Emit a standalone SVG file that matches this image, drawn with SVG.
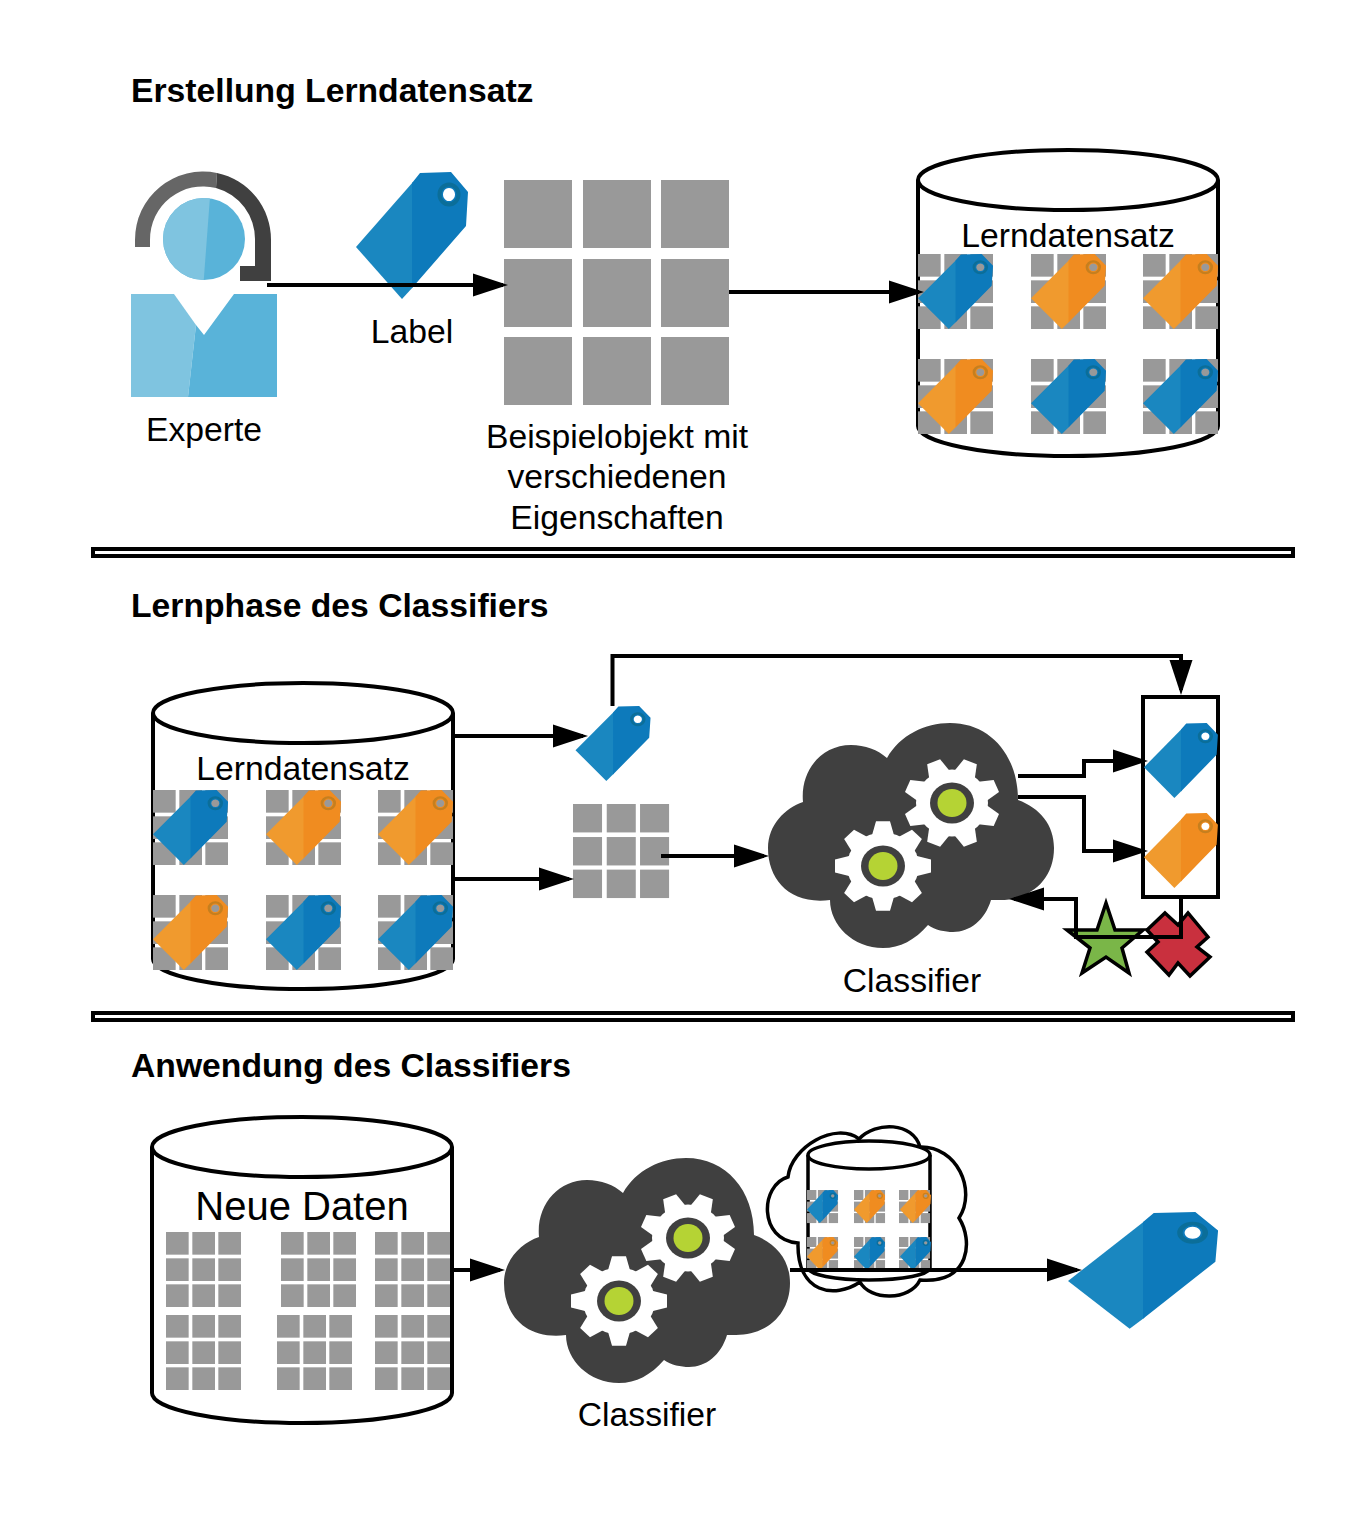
<svg xmlns="http://www.w3.org/2000/svg" width="1369" height="1515" viewBox="0 0 1369 1515">
<style>
text{font-family:"Liberation Sans",Arial,sans-serif;font-size:33.700px;fill:#000;text-anchor:middle}
text.title{font-weight:bold;text-anchor:start}
.conn{fill:none;stroke:#000;stroke-width:4;marker-end:url(#head)}
.cyl{fill:#fff;stroke:#000;stroke-width:4}
.sep{fill:#fff;stroke:#000;stroke-width:4}
.sq{fill:#999}
</style>
<defs>
<marker id="head" markerUnits="userSpaceOnUse" markerWidth="36" markerHeight="24" refX="30" refY="12" orient="auto"><path d="M0,0.500 L35,12 L0,23.500Z" fill="#000"/></marker>
<clipPath id="head-left"><path d="M120,150 H213.500 L203,290 H120Z"/></clipPath>
<g id="grid">
<rect class="sq" x="0" y="0" width="68" height="68"/><rect class="sq" x="79" y="0" width="68" height="68"/><rect class="sq" x="157" y="0" width="68" height="68"/>
<rect class="sq" x="0" y="79" width="68" height="68"/><rect class="sq" x="79" y="79" width="68" height="68"/><rect class="sq" x="157" y="79" width="68" height="68"/>
<rect class="sq" x="0" y="157" width="68" height="68"/><rect class="sq" x="79" y="157" width="68" height="68"/><rect class="sq" x="157" y="157" width="68" height="68"/>
</g>
<g id="tag-blue">
<path fill="#1A87C0" d="M0,75 L57,10 V115 L46,127Z"/>
<path fill="#0D7ABB" fill-rule="evenodd" d="M56,11 L64,1 L95,0 L112,20 L110,54 L56,116Z M93,16 a6,6.5 0 1 0 .01,0Z"/>
<ellipse cx="93" cy="22.500" rx="9.500" ry="10" fill="none" stroke="#0B6E99" stroke-width="4"/>
</g>
<g id="tag-orange">
<path fill="#F09A2E" d="M0,75 L57,10 V115 L46,127Z"/>
<path fill="#F08C20" fill-rule="evenodd" d="M56,11 L64,1 L95,0 L112,20 L110,54 L56,116Z M93,16 a6,6.5 0 1 0 .01,0Z"/>
<ellipse cx="93" cy="22.500" rx="9.500" ry="10" fill="none" stroke="#C67F1E" stroke-width="4"/>
</g>
<g id="cyl-shape">
<path class="cyl" d="M0,30 V276 A150,30 0 0 0 300,276 V30"/>
<ellipse class="cyl" cx="150" cy="30" rx="150" ry="30"/>
</g>
<path id="tooth" fill="#fff" d="M-11,-33 L-7,-48 L7,-48 L11,-33Z"/>
<g id="gear">
<circle r="36" fill="#fff"/>
<use href="#tooth"/><use href="#tooth" transform="rotate(45)"/><use href="#tooth" transform="rotate(90)"/><use href="#tooth" transform="rotate(135)"/><use href="#tooth" transform="rotate(180)"/><use href="#tooth" transform="rotate(225)"/><use href="#tooth" transform="rotate(270)"/><use href="#tooth" transform="rotate(315)"/>
</g>
<g id="cloud">
<path fill="#404040" d="M887,758 C900,735 925,723 950,723 C990,723 1018,755 1018,800 C1040,808 1054,825 1054,848 C1054,880 1030,900 1000,900 L991,900 C985,920 970,932 953,932 C945,932 935,930 928,925 C915,940 900,948 883,948 C853,948 830,925 830,900 C790,905 768,880 768,848 C768,825 785,808 803,802 C800,770 822,745 851,745 C865,745 878,750 887,758Z"/>
<use href="#gear" transform="translate(952,803) scale(1,.93) rotate(22.5)"/>
<ellipse cx="952" cy="803" rx="22" ry="20.500" fill="#404040"/>
<ellipse cx="952" cy="803" rx="14.500" ry="14" fill="#B5D334"/>
<use href="#gear" transform="translate(883,866) scale(1,.93)"/>
<ellipse cx="883" cy="866" rx="22" ry="20.500" fill="#404040"/>
<ellipse cx="883" cy="866" rx="14.500" ry="14" fill="#B5D334"/>
</g>
<g id="sixgrid">
<use href="#grid" transform="translate(0,0) scale(.3333)"/><use href="#grid" transform="translate(113,0) scale(.3333)"/><use href="#grid" transform="translate(225,0) scale(.3333)"/>
<use href="#grid" transform="translate(0,105) scale(.3333)"/><use href="#grid" transform="translate(113,105) scale(.3333)"/><use href="#grid" transform="translate(225,105) scale(.3333)"/>
<use href="#tag-blue" transform="translate(0,0) scale(.67,.59)"/><use href="#tag-orange" transform="translate(113,0) scale(.67,.59)"/><use href="#tag-orange" transform="translate(225,0) scale(.67,.59)"/>
<use href="#tag-orange" transform="translate(0,105) scale(.67,.59)"/><use href="#tag-blue" transform="translate(113,105) scale(.67,.59)"/><use href="#tag-blue" transform="translate(225,105) scale(.67,.59)"/>
</g>
</defs>

<text class="title" x="131" y="102">Erstellung Lerndatensatz</text>
<text class="title" x="131" y="617">Lernphase des Classifiers</text>
<text class="title" x="131" y="1077">Anwendung des Classifiers</text>

<rect id="separator-1" class="sep" x="93" y="549" width="1200" height="7"/>
<rect id="separator-2" class="sep" x="93" y="1013" width="1200" height="7"/>

<g id="expert">
<path fill="#7FC4E0" d="M131,294 H174 L196,325 L188,397 H131Z"/>
<path fill="#59B3D9" d="M196,325 L204,335 L234,294 H277 V397 H188Z"/>
<circle cx="204" cy="239" r="41" fill="#59B3D9"/>
<circle cx="204" cy="239" r="41" fill="#7FC4E0" clip-path="url(#head-left)"/>
<path fill="#666" d="M135,247 V240 A68,68 0 0 1 217,173 L216,188 A53,53 0 0 0 150,240 V247Z"/>
<path fill="#404040" d="M217,173 A68,68 0 0 1 271,240 V281 H240 V266 H255 V240 A53,53 0 0 0 216,188Z"/>
<text x="204" y="441">Experte</text>
</g>
<g id="label-tag">
<use href="#tag-blue" transform="translate(356,172)"/>
<text x="412" y="343">Label</text>
</g>
<g id="sample">
<use href="#grid" transform="translate(504,180)"/>
<text x="617" y="448">Beispielobjekt mit</text>
<text x="617" y="488">verschiedenen</text>
<text x="617" y="529">Eigenschaften</text>
</g>
<g id="dataset-1">
<use href="#cyl-shape" transform="translate(918,150)"/>
<text x="1068" y="247">Lerndatensatz</text>
<use href="#sixgrid" transform="translate(918,254)"/>
</g>

<g id="dataset-2">
<use href="#cyl-shape" transform="translate(153,683)"/>
<text x="303" y="780">Lerndatensatz</text>
<use href="#sixgrid" transform="translate(153,790)"/>
</g>
<g id="tag-learn"><use href="#tag-blue" transform="translate(575.500,706) scale(.67,.59)"/></g>
<g id="sample-learn"><use href="#grid" transform="translate(573,804) scale(.427,.418)"/></g>
<g id="classifier-learn">
<use href="#cloud"/>
<text x="912" y="992">Classifier</text>
</g>
<g id="prediction-box">
<rect x="1143" y="697" width="75" height="200" fill="#fff" stroke="#000" stroke-width="4"/>
<use href="#tag-blue" transform="translate(1144,723) scale(.66,.59)"/>
<use href="#tag-orange" transform="translate(1144,813) scale(.66,.59)"/>
</g>
<g id="star"><path fill="#7AB648" stroke="#000" stroke-width="3.500" d="M1106,903 L1115,930 L1143,930 L1122,948 L1129,973 L1106,957 L1082,973 L1090,948 L1067,930 L1097,930Z"/></g>
<g id="cross"><path fill="#C9303E" stroke="#000" stroke-width="3.500" d="M1165,913 L1178,925 L1188,913 L1208,937 L1197,947 L1210,957 L1190,976 L1178,963 L1169,975 L1147,952 L1158,942 L1147,930Z"/></g>

<g id="dataset-new">
<use href="#cyl-shape" transform="translate(152,1117)"/>
<text x="302" y="1220" style="font-size:40px">Neue Daten</text>
<use href="#grid" transform="translate(166,1232) scale(.3333)"/><use href="#grid" transform="translate(281,1232) scale(.3333)"/><use href="#grid" transform="translate(375,1232) scale(.3333)"/>
<use href="#grid" transform="translate(166,1315) scale(.3333)"/><use href="#grid" transform="translate(277,1315) scale(.3333)"/><use href="#grid" transform="translate(375,1315) scale(.3333)"/>
</g>
<g id="thought-cloud">
<path fill="#fff" stroke="#000" stroke-width="3.500" d="M788,1177 C791,1147 836,1121 859,1139 C876,1121 913,1122 920,1147 C957,1146 977,1190 959,1218 C973,1240 971,1284 920,1280 C910,1301 870,1301 860,1282 C835,1299 797,1294 798,1243 C758,1240 760,1185 788,1177Z"/>
<path fill="#fff" stroke="#000" stroke-width="3.500" d="M808,1155 V1268 A61,12 0 0 0 930,1268 V1155"/>
<ellipse cx="869" cy="1155" rx="61" ry="14" fill="#fff" stroke="#000" stroke-width="3.500"/>
<use href="#grid" transform="translate(807,1190) scale(.138,.147)"/><use href="#grid" transform="translate(854,1190) scale(.138,.147)"/><use href="#grid" transform="translate(899,1190) scale(.138,.147)"/>
<use href="#grid" transform="translate(807,1237) scale(.138,.147)"/><use href="#grid" transform="translate(854,1237) scale(.138,.147)"/><use href="#grid" transform="translate(899,1237) scale(.138,.147)"/>
<use href="#tag-blue" transform="translate(807,1190) scale(.277,.26)"/><use href="#tag-orange" transform="translate(854,1190) scale(.277,.26)"/><use href="#tag-orange" transform="translate(900,1190) scale(.277,.26)"/>
<use href="#tag-orange" transform="translate(807,1237) scale(.277,.26)"/><use href="#tag-blue" transform="translate(854,1237) scale(.277,.26)"/><use href="#tag-blue" transform="translate(900,1237) scale(.277,.26)"/>
</g>
<g id="classifier-apply">
<use href="#cloud" transform="translate(-264,435)"/>
<text x="647" y="1426">Classifier</text>
</g>
<g id="result-tag"><use href="#tag-blue" transform="translate(1068,1212) scale(1.34,.92)"/></g>

<g id="connectors">
<path class="conn" d="M267,285 H503"/>
<path class="conn" d="M729,292 H919"/>
<path class="conn" d="M453,736 H583"/>
<path class="conn" d="M453,879 H569"/>
<path class="conn" d="M661,856 H764"/>
<path class="conn" d="M612.500,706 V656 H1181 V690"/>
<path class="conn" d="M1018,776 H1084 V761 H1143"/>
<path class="conn" d="M1018,797 H1084 V851 H1143"/>
<path class="conn" d="M1181,897 V937 H1076 V899 H1014"/>
<path class="conn" d="M453,1270 H500"/>
<path class="conn" d="M790,1270 H1077"/>
</g>
</svg>
